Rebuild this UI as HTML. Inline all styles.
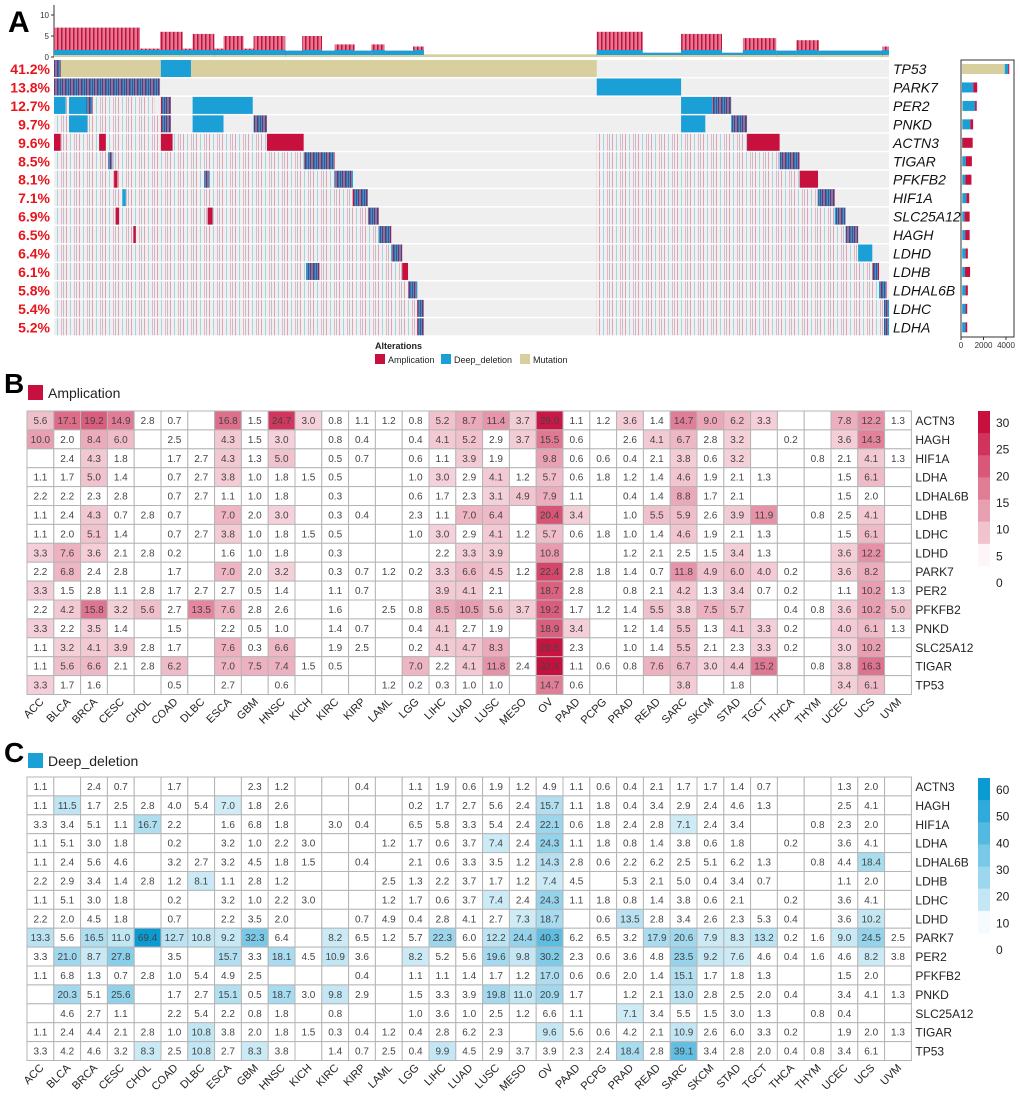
<!DOCTYPE html>
<html><head><meta charset="utf-8"><style>
html,body{margin:0;padding:0;background:#fff;}
svg{display:block;font-family:"Liberation Sans",Arial,sans-serif;}
</style></head><body>
<svg id="fig" width="1020" height="1098" viewBox="0 0 1020 1098" xmlns="http://www.w3.org/2000/svg">
<text x="8" y="32" font-size="30" font-weight="bold">A</text>
<text x="4" y="393" font-size="28" font-weight="bold">B</text>
<text x="4" y="762" font-size="28" font-weight="bold">C</text>
<rect x="28" y="385" width="15" height="15" fill="#c8103f"/>
<text x="48" y="398" font-size="14" fill="#222">Amplication</text>
<rect x="28" y="753" width="15" height="15" fill="#1a9fd6"/>
<text x="48" y="766" font-size="14" fill="#222">Deep_deletion</text>
<g id="pa"></g><g id="pb"></g><g id="pc"></g>
</svg>
<script>
const NS="http://www.w3.org/2000/svg";
const cancers=["ACC","BLCA","BRCA","CESC","CHOL","COAD","DLBC","ESCA","GBM","HNSC","KICH","KIRC","KIRP","LAML","LGG","LIHC","LUAD","LUSC","MESO","OV","PAAD","PCPG","PRAD","READ","SARC","SKCM","STAD","TGCT","THCA","THYM","UCEC","UCS","UVM"];
const hmGenes=["ACTN3","HAGH","HIF1A","LDHA","LDHAL6B","LDHB","LDHC","LDHD","PARK7","PER2","PFKFB2","PNKD","SLC25A12","TIGAR","TP53"];
const N=null;
const ampValues=[
[5.6,17.1,19.2,14.9,2.8,0.7,N,16.8,1.5,24.7,3.0,0.8,1.1,1.2,0.8,5.2,8.7,11.4,3.7,29.0,1.1,1.2,3.6,1.4,14.7,9.0,6.2,3.3,N,N,7.8,12.2,1.3],
[10.0,2.0,8.4,6.0,N,2.5,N,4.3,1.5,3.0,N,0.8,0.4,N,0.4,4.1,5.2,2.9,3.7,15.5,0.6,N,2.6,4.1,6.7,2.8,3.2,N,0.2,N,3.6,14.3,N],
[N,2.4,4.3,1.8,N,1.7,2.7,4.3,1.3,5.0,N,0.5,0.7,N,0.6,1.1,3.9,1.9,N,9.8,0.6,0.6,0.4,2.1,3.8,0.6,3.2,N,N,0.8,2.1,4.1,1.3],
[1.1,1.7,5.0,1.4,N,0.7,2.7,3.8,1.0,1.8,1.5,0.5,N,N,1.0,3.0,2.9,4.1,1.2,5.7,0.6,1.8,1.2,1.4,4.6,1.9,2.1,1.3,N,N,1.5,6.1,N],
[2.2,2.2,2.3,2.8,N,0.7,2.7,1.1,1.0,1.8,N,0.3,N,N,0.6,1.7,2.3,3.1,4.9,7.9,1.1,N,0.4,1.4,8.8,1.7,2.1,N,N,N,1.5,2.0,N],
[1.1,2.4,4.3,0.7,2.8,0.7,N,7.0,2.0,3.0,N,0.3,0.4,N,2.3,1.1,7.0,6.4,N,20.4,3.4,N,1.0,5.5,5.9,2.6,3.9,11.9,N,0.8,2.5,4.1,N],
[1.1,2.0,5.1,1.4,N,0.7,2.7,3.8,1.0,1.8,1.5,0.5,N,N,1.0,3.0,2.9,4.1,1.2,5.7,0.6,1.8,1.0,1.4,4.6,1.9,2.1,1.3,N,N,1.5,6.1,N],
[3.3,7.6,3.6,2.1,2.8,0.2,N,1.6,1.0,1.8,N,0.3,N,N,N,2.2,3.3,3.9,N,10.8,N,N,1.2,2.1,2.5,1.5,3.4,1.3,N,N,3.6,12.2,N],
[2.2,6.8,2.4,2.8,N,1.7,N,7.0,2.0,3.2,N,0.3,0.7,1.2,0.2,3.3,6.6,4.5,1.2,22.4,2.8,1.8,1.4,0.7,11.8,4.9,6.0,4.0,0.2,N,3.6,8.2,N],
[3.3,1.5,2.8,1.1,2.8,1.7,2.7,2.7,0.5,1.4,N,1.1,0.7,N,N,3.9,4.1,2.1,N,18.7,2.8,N,0.8,2.1,4.2,1.3,3.4,0.7,0.2,N,1.1,10.2,1.3],
[2.2,4.2,15.8,3.2,5.6,2.7,13.5,7.6,2.8,2.6,N,1.6,N,2.5,0.8,8.5,10.5,5.6,3.7,19.2,1.7,1.2,1.4,5.5,3.8,7.5,5.7,N,0.4,0.8,3.6,10.2,5.0],
[3.3,2.2,3.5,1.4,N,1.5,N,2.2,0.5,1.0,N,1.4,0.7,N,0.4,4.1,2.7,1.9,N,18.9,3.4,N,1.2,1.4,5.5,1.3,4.1,3.3,0.2,N,4.0,6.1,1.3],
[1.1,3.2,4.1,3.9,2.8,1.7,N,7.6,0.3,6.6,N,1.9,2.5,N,0.2,4.1,4.7,8.3,N,29.5,2.3,N,1.0,1.4,5.5,2.1,2.3,3.3,0.2,N,3.0,10.2,N],
[1.1,5.6,6.6,2.1,2.8,6.2,N,7.0,7.5,7.4,1.5,0.5,N,N,7.0,2.2,4.1,11.8,2.4,32.4,1.1,0.6,0.8,7.6,6.7,3.0,4.4,15.2,N,0.8,3.8,16.3,N],
[3.3,1.7,1.6,N,N,0.5,N,2.7,N,0.6,N,N,N,1.2,0.2,0.3,1.0,1.0,N,14.7,0.6,N,N,N,3.8,N,1.8,N,N,N,3.4,6.1,N]];
const delValues=[
[1.1,N,2.4,0.7,N,1.7,N,N,2.3,1.2,N,N,0.4,N,1.1,1.9,0.6,1.9,1.2,4.9,1.1,0.6,0.4,2.1,1.7,1.7,1.4,0.7,N,N,1.3,2.0,N],
[1.1,11.5,1.7,2.5,2.8,4.0,5.4,7.0,1.8,2.6,N,N,N,N,0.2,1.7,2.7,5.6,2.4,15.7,1.1,1.8,0.4,3.4,2.9,2.4,4.6,1.3,N,N,2.5,4.1,N],
[3.3,3.4,5.1,1.1,16.7,2.2,N,1.6,6.8,1.8,N,3.0,0.4,N,6.5,5.8,3.3,5.4,2.4,22.1,0.6,1.8,2.4,2.8,7.1,2.4,3.4,N,N,0.8,2.3,2.0,N],
[1.1,5.1,3.0,1.8,N,0.2,N,3.2,1.0,2.2,3.0,N,N,1.2,1.7,0.6,3.7,7.4,2.4,24.3,1.1,1.8,0.8,1.4,3.8,0.6,1.8,N,0.2,N,3.6,4.1,N],
[1.1,2.4,5.6,4.6,N,3.2,2.7,3.2,4.5,1.8,1.5,N,0.4,N,2.1,0.6,3.3,3.5,1.2,14.3,2.8,0.6,2.2,6.2,2.5,5.1,6.2,1.3,N,0.8,4.4,18.4,N],
[2.2,2.9,3.4,1.4,2.8,1.2,8.1,1.1,2.8,1.2,N,N,N,2.5,1.3,2.2,3.7,1.7,1.2,7.4,4.5,N,5.3,2.1,5.0,0.4,3.4,0.7,N,N,1.1,2.0,N],
[1.1,5.1,3.0,1.8,N,0.2,N,3.2,1.0,2.2,3.0,N,N,1.2,1.7,0.6,3.7,7.4,2.4,24.3,1.1,1.8,0.8,1.4,3.8,0.6,2.1,N,0.2,N,3.6,4.1,N],
[2.2,2.0,4.5,1.8,N,0.7,N,2.2,3.5,2.0,N,N,0.7,4.9,0.4,2.8,4.1,2.7,7.3,18.7,N,0.6,13.5,2.8,3.4,2.6,2.3,5.3,0.4,N,3.6,10.2,N],
[13.3,5.6,16.5,11.0,69.4,12.7,10.8,9.2,32.3,6.4,N,8.2,6.5,1.2,5.7,22.3,6.0,12.2,24.4,40.3,6.2,6.5,3.2,17.9,20.6,7.9,8.3,13.2,0.2,1.6,9.0,24.5,2.5],
[3.3,21.0,8.7,27.8,N,3.5,N,15.7,3.3,18.1,4.5,10.9,3.6,N,8.2,5.2,5.6,19.6,9.8,30.2,2.3,0.6,3.6,4.8,23.5,9.2,7.6,4.6,0.4,1.6,4.6,8.2,3.8],
[1.1,6.8,1.3,0.7,2.8,1.0,5.4,4.9,2.5,N,N,N,0.4,N,1.1,1.1,1.4,1.7,1.2,17.0,0.6,0.6,2.0,1.4,15.1,1.7,1.8,1.3,N,N,1.5,2.0,N],
[N,20.3,5.1,25.6,N,1.7,2.7,15.1,0.5,18.7,3.0,9.8,2.9,N,1.5,3.3,3.9,19.8,11.0,20.9,1.7,N,1.2,2.1,13.0,2.8,2.5,2.0,0.4,N,3.4,4.1,1.3],
[N,4.6,2.7,1.1,N,2.2,5.4,2.2,0.8,1.8,N,0.8,N,N,1.0,3.6,1.0,2.5,1.2,6.6,1.1,N,7.1,3.4,5.5,1.5,3.0,1.3,N,0.8,0.4,N,N],
[1.1,2.4,4.4,2.1,2.8,1.0,10.8,3.8,2.0,1.8,1.5,0.3,0.4,1.2,0.4,2.8,6.2,2.3,N,9.6,5.6,0.6,4.2,2.1,10.9,2.6,6.0,3.3,0.2,N,1.9,2.0,1.3],
[3.3,4.2,4.6,3.2,8.3,2.5,10.8,2.7,8.3,3.8,N,1.4,0.7,2.5,0.4,9.9,4.5,2.9,3.7,3.9,2.3,2.4,18.4,2.8,39.1,3.4,2.8,2.0,0.4,0.8,3.4,6.1,N]];
const ampTicks=[0,5,10,15,20,25,30];
const delTicks=[0,10,20,30,40,50,60];

const opGenes=["TP53","PARK7","PER2","PNKD","ACTN3","TIGAR","PFKFB2","HIF1A","SLC25A12","HAGH","LDHD","LDHB","LDHAL6B","LDHC","LDHA"];
const opPct=["41.2%","13.8%","12.7%","9.7%","9.6%","8.5%","8.1%","7.1%","6.9%","6.5%","6.4%","6.1%","5.8%","5.4%","5.2%"];
const opBlocks=[
[0,0,650,"m"],[0,128,164,"d"],[0,0,8,"x"],
[1,0,127,"x"],[1,650,751,"d"],
[2,0,14,"d"],[2,18,40,"d"],[2,166,238,"d"],[2,751,789,"d"],[2,789,811,"x"],[2,39,46,"x"],[2,128,140,"x"],
[3,166,203,"d"],[3,18,40,"d"],[3,239,255,"x"],[3,751,780,"d"],[3,811,830,"x"],[3,128,140,"x"],
[4,255,299,"a"],[4,830,869,"a"],[4,0,8,"a"],[4,128,142,"a"],[4,54,62,"a"],
[5,299,336,"x"],[5,869,893,"x"],[5,65,70,"x"],
[6,336,358,"x"],[6,893,915,"a"],[6,72,76,"a"],[6,180,186,"x"],
[7,358,376,"x"],[7,915,935,"x"],[7,82,86,"d"],
[8,376,389,"x"],[8,935,948,"x"],[8,74,78,"a"],[8,184,190,"a"],
[9,389,404,"x"],[9,948,963,"x"],[9,95,98,"a"],
[10,404,417,"x"],[10,963,980,"d"],
[11,417,424,"a"],[11,980,988,"x"],[11,302,318,"x"],
[12,424,435,"x"],[12,988,997,"x"],
[13,435,443,"x"],[13,994,1000,"x"],
[14,435,443,"x"],[14,994,1000,"x"]];
// faint scattered-alteration regions [row, start, end]
const opTexture=[[2,0,120,0],[3,0,128,0],[4,0,255,0],[5,0,299,0],[6,0,336,0],[7,0,358,0],[8,0,376,0],[9,0,389,0],[10,0,404,0],[11,0,417,0],[12,0,424,0],[13,0,435,0],[14,0,435,0],
[4,650,830,0],[5,650,869,0],[6,650,893,0],[7,650,915,0],[8,650,935,0],[9,650,948,0],[10,650,963,0],[11,650,980,0],[12,650,988,0],[13,650,994,0],[14,650,994,0]];
const topBars=[[0,103,7],[103,127,2],[127,154,6],[154,166,2],[166,192,5.5],[192,203,2],[203,227,5],[227,239,2],[239,277,5],[277,297,1.5],[297,321,5],[321,336,1.5],[336,360,3],[360,380,1.5],[380,396,3],[396,430,1.5],[430,443,2.5],[443,650,0.4],[650,705,6],[705,751,1],[751,800,5.5],[800,825,1],[825,865,4.5],[865,889,1.5],[889,916,4],[916,992,1.5],[992,1000,2.5]];
const sideMut=[3800,0,60,40,0,30,40,40,30,30,20,20,20,15,15];
const sideDel=[300,1000,1100,700,50,300,250,350,200,250,300,250,300,300,300];
const sideAmp=[100,350,150,250,900,550,550,250,450,400,200,450,200,150,150];

function el(tag,attrs,parent,name,inter){const e=document.createElementNS(NS,tag);for(const k in attrs)e.setAttribute(k,attrs[k]);


parent.appendChild(e);return e;}
function mix(c1,c2,t){const r=[0,1,2].map(i=>Math.round(c1[i]+(c2[i]-c1[i])*t));return `rgb(${r[0]},${r[1]},${r[2]})`;}

const pa=document.getElementById('pa');
const X0=54,X1=889;
function sx(s){return X0+s/1000*(X1-X0);}
const rowY=i=>60+i*18.45;
const AMP="#c8103f",DEL="#1a9fd6",MUT="#d8cf9f";
const defs=el('defs',{},pa,'defs',false);
function pat(id,w,bg,lines){const p=el('pattern',{id:id,width:w,height:10,patternUnits:'userSpaceOnUse'},defs,'stripe-pattern',false);
if(bg)el('rect',{x:0,y:0,width:w,height:10,fill:bg},p,'stripe-bg',false);
lines.forEach(l=>el('rect',{x:l[0],y:0,width:l[1],height:10,fill:l[2],opacity:l[3]||1},p,'stripe-line',false));return `url(#${id})`;}
const fills={a:AMP,d:DEL,m:MUT,x:pat('px',8,DEL,[[1,1.5,AMP],[4,1,"#6d3f7f"],[6,1,AMP]])};
const texFill=pat('ptex',13,null,[[1,1,AMP,0.35],[5,1,DEL,0.35],[9,1,AMP,0.25],[11,1,"#6d3f7f",0.3]]);
const barFill=pat('pbar',4,"#e07a93",[[1,1.5,AMP]]);
el('line',{x1:X0,y1:5,x2:X0,y2:57,stroke:"#333"},pa,'top-bar-axis',false);
[0,5,10].forEach(v=>{const y=57-v*4.2;el('line',{x1:X0-3,y1:y,x2:X0,y2:y,stroke:"#333"},pa,'top-axis-tick',false);
const t=el('text',{x:X0-5,y:y+3,'font-size':8,'text-anchor':'end',fill:"#333"},pa,'top-axis-label',false);t.textContent=v;});
topBars.forEach(b=>{const h=b[2]*4.2,x=sx(b[0]),w=sx(b[1])-x;
if(b[2]<0.5){el('rect',{x:x,y:57-h-1,width:w,height:h+1,fill:MUT},pa,'top-bar-mut',false);return;}
el('rect',{x:x,y:57-h,width:w,height:h,fill:barFill},pa,'top-bar-amp',false);
el('rect',{x:x,y:57-Math.min(h,7),width:w,height:Math.min(h,7),fill:DEL},pa,'top-bar-del',false);
el('rect',{x:x,y:55,width:w,height:2,fill:MUT},pa,'top-bar-mut',false);});
opGenes.forEach((g,i)=>{const y=rowY(i);
el('rect',{x:X0,y:y,width:X1-X0,height:17,fill:"#efefef"},pa,'oncoprint-row-bg',false);
const t=el('text',{x:50,y:y+14,'font-size':14,'font-weight':'bold','text-anchor':'end',fill:"#e8141c"},pa,'gene-alteration-percent',false);t.textContent=opPct[i];
const n=el('text',{x:893,y:y+14,'font-size':14,'font-style':'italic',fill:"#111"},pa,'gene-label',false);n.textContent=g;});
opTexture.forEach(b=>{const x=sx(b[1]);el('rect',{x:x,y:rowY(b[0]),width:sx(b[2])-x,height:17,fill:texFill},pa,'oncoprint-scatter',false);});
opBlocks.forEach(b=>{const x=sx(b[1]);el('rect',{x:x,y:rowY(b[0]),width:Math.max(1.5,sx(b[2])-x),height:17,fill:fills[b[3]]},pa,'oncoprint-block',false);});
el('rect',{x:961,y:60,width:53,height:277,fill:"none",stroke:"#333"},pa,'side-bar-frame',false);
const sb=v=>961+v/4000*45;
opGenes.forEach((g,i)=>{const y=rowY(i)+4;let x=961;
[[sideMut[i],MUT],[sideDel[i],DEL],[sideAmp[i],AMP]].forEach(p=>{const w=p[0]/4000*45;el('rect',{x:x+1,y:y,width:w,height:10,fill:p[1]},pa,'side-bar-'+g.toLowerCase(),false);x+=w;});});
[0,2000,4000].forEach(v=>{el('line',{x1:sb(v),y1:337,x2:sb(v),y2:340,stroke:"#333"},pa,'side-axis-tick',false);
const t=el('text',{x:sb(v),y:348,'font-size':8,'text-anchor':'middle',fill:"#333"},pa,'side-axis-label',false);t.textContent=v;});
let t=el('text',{x:375,y:349,'font-size':9,'font-weight':'bold',fill:"#222"},pa,'legend-title',false);t.textContent="Alterations";
[["Amplication",AMP,375],["Deep_deletion",DEL,441],["Mutation",MUT,520]].forEach(l=>{
el('rect',{x:l[2],y:354,width:10,height:10,fill:l[1]},pa,'legend-swatch',false);
const tt=el('text',{x:l[2]+13,y:363,'font-size':9,fill:"#222"},pa,'legend-entry',false);tt.textContent=l[0];});

function heat(g,top,vals,maxv,thr,col,ticks,tickMax,cbTop){
const L=27,W=26.8,H=18.9;const c0=[255,255,255];
vals.forEach((row,r)=>{row.forEach((v,c)=>{let f="#fff";
if(v!==null&&v>=thr){const tt=Math.min(1,v/maxv);f=mix(c0,col,0.1+0.9*tt);}
el('rect',{x:L+c*W,y:top+r*H,width:W,height:H,fill:f,stroke:"#b5b5b5",'stroke-width':1},g,'heatmap-cell',false);
if(v!==null){const tx=el('text',{x:L+c*W+W/2,y:top+r*H+13,'font-size':10,'text-anchor':'middle',fill:"#444"},g,'cell-value',false);tx.textContent=v.toFixed(1);}});
const lb=el('text',{x:L+33*W+4,y:top+r*H+14,'font-size':12,fill:"#222"},g,'row-label',false);lb.textContent=hmGenes[r];});
cancers.forEach((cn,c)=>{const x=L+c*W+W/2+4,y=top+15*H+8;
const tx=el('text',{x:x,y:y,'font-size':11,'text-anchor':'end',fill:"#222",transform:`rotate(-45 ${x} ${y})`},g,'x-axis-label',false);tx.textContent=cn;});
const steps=7,ch=155/steps;
for(let i=0;i<steps;i++){el('rect',{x:978,y:cbTop+i*ch,width:12,height:ch+0.5,fill:mix(c0,col,(0.1+0.9*(steps-1-i)/(steps-1))*(i==steps-1?0.4:1))},g,'colorbar-step',false);}
ticks.forEach(v=>{const y=cbTop+172-v/tickMax*160;const tx=el('text',{x:996,y:y+4,'font-size':12,fill:"#222"},g,'colorbar-label',false);tx.textContent=v;});}
heat(document.getElementById('pb'),411,ampValues,30,3,[200,16,63],ampTicks,30,411);
heat(document.getElementById('pc'),777,delValues,65,7,[10,155,211],delTicks,60,778);
</script>
</body></html>
